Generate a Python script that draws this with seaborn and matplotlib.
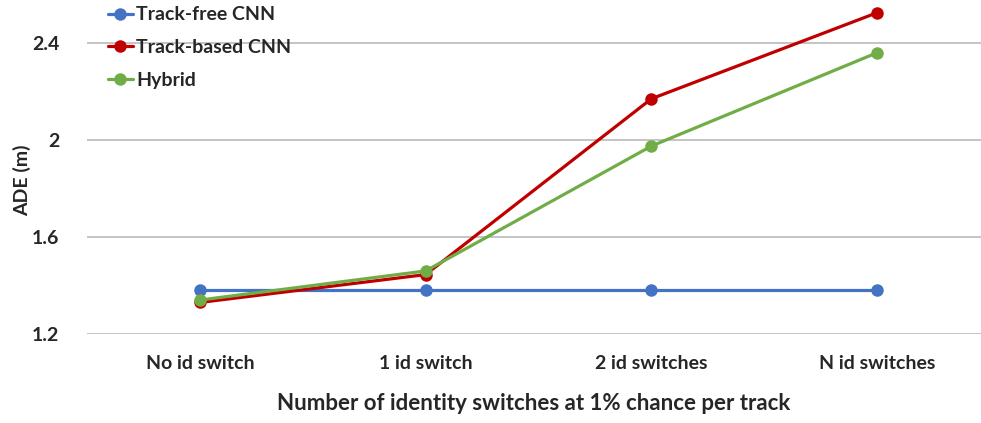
import pandas as pd
import matplotlib
matplotlib.use("Agg")
import matplotlib.pyplot as plt
import seaborn as sns

# values
categories = ["No id switch", "1 id switch", "2 id switches", "N id switches"]
track_free = [1.38, 1.38, 1.38, 1.38]
track_based = [1.33, 1.445, 2.17, 2.525]
hybrid = [1.34, 1.46, 1.975, 2.36]
series_names = ["Track-free CNN", "Track-based CNN", "Hybrid"]
y_ticks = [1.2, 1.6, 2.0, 2.4]

colors = ["#4472C4", "#C00000", "#70AD47"]


def build_frame():
  rows = []
  for name, values in zip(series_names, [track_free, track_based, hybrid]):
    for cat, v in zip(categories, values):
      rows.append({"category": cat, "ADE": v, "model": name})
  return pd.DataFrame(rows)


def main():
  sns.set_theme(style="white")
  plt.rcParams["font.family"] = ["Lato", "DejaVu Sans"]
  plt.rcParams["font.weight"] = "bold"

  df = build_frame()
  fig = plt.figure(figsize=(9.81, 4.23), dpi=100)
  ax = fig.add_axes([87 / 981, 89 / 423, 1 - 87 / 981, 1.35 * 242.5 / 423])

  ax.set_ylim(1.2, 2.55)
  ax.set_xlim(-0.5, 3.46)
  for t in y_ticks:
    ax.axhline(t, color="#BFBFBF", linewidth=1.3, zorder=0)

  sns.lineplot(data=df, x="category", y="ADE", hue="model", hue_order=series_names,
               palette=colors, marker="o", markersize=9, markeredgewidth=0,
               linewidth=2.3, ax=ax, sort=False, clip_on=False)

  for s in ax.spines.values():
    s.set_visible(False)
  ax.set_yticks(y_ticks)
  ax.set_yticklabels(["1.2", "1.6", "2", "2.4"], fontsize=14, fontweight="bold")
  ax.set_xticks(range(len(categories)))
  ax.set_xticklabels(categories, fontsize=14, fontweight="bold")
  ax.tick_params(axis="x", length=0, pad=15)
  ax.tick_params(axis="y", length=0, pad=20)
  ax.set_xlabel("Number of identity switches at 1% chance per track", fontsize=16,
                fontweight="bold", labelpad=15)
  ax.set_ylabel("ADE (m)", fontsize=14, fontweight="bold")
  ax.yaxis.set_label_coords(-0.062, 0.471)

  leg = ax.legend(loc="upper left", bbox_to_anchor=(97 / 981, 1.01), bbox_transform=fig.transFigure,
                  frameon=False, fontsize=14, handlelength=1.3, handletextpad=0.15,
                  labelspacing=0.8, borderpad=0.05)
  for txt in leg.get_texts():
    txt.set_fontweight("bold")

  fig.savefig("out.png", dpi=100)


if __name__ == "__main__":
  main()
